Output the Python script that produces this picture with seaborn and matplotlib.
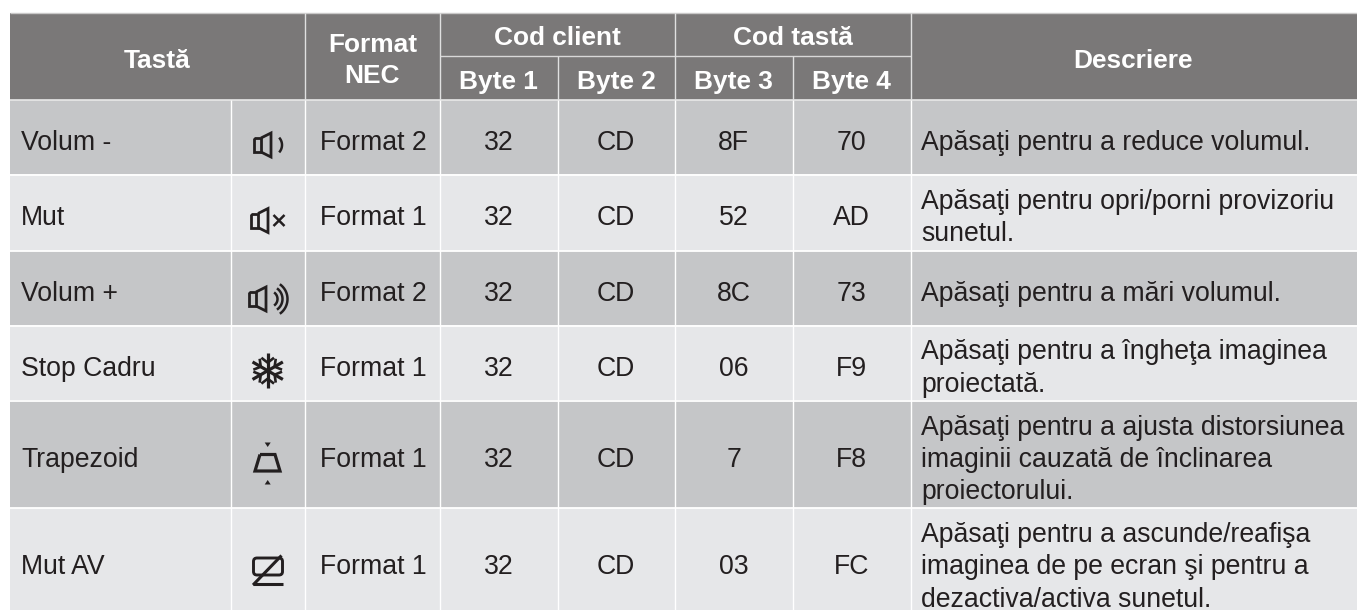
#################################
# Remote control codes table
#################################

import numpy as np
import matplotlib
matplotlib.use("Agg")
import matplotlib.pyplot as plt
from matplotlib.colors import ListedColormap
from matplotlib.patches import FancyBboxPatch
import seaborn as sns

sns.set_theme(style="white")
plt.rcParams['font.family'] = ['Liberation Sans', 'DejaVu Sans']

#################################
# TABLE CONTENT
#################################

keys = ["Volum -", "Mut", "Volum +", "Stop Cadru", "Trapezoid", "Mut AV"]
icons = ["vol_down", "mute", "vol_up", "freeze", "keystone", "av_mute"]
formats = ["Format 2", "Format 1", "Format 2", "Format 1", "Format 1", "Format 1"]
byte1 = ["32", "32", "32", "32", "32", "32"]
byte2 = ["CD", "CD", "CD", "CD", "CD", "CD"]
byte3 = ["8F", "52", "8C", "06", "7", "03"]
byte4 = ["70", "AD", "73", "F9", "F8", "FC"]
descriptions = [
    ["Apăsaţi pentru a reduce volumul."],
    ["Apăsaţi pentru opri/porni provizoriu", "sunetul."],
    ["Apăsaţi pentru a mări volumul."],
    ["Apăsaţi pentru a îngheţa imaginea", "proiectată."],
    ["Apăsaţi pentru a ajusta distorsiunea", "imaginii cauzată de înclinarea", "proiectorului."],
    ["Apăsaţi pentru a ascunde/reafişa", "imaginea de pe ecran şi pentru a", "dezactiva/activa sunetul."],
]

# cell layout, in pixels
col_edges = [10, 230.5, 304.5, 439.5, 557.5, 675, 792.5, 910.5, 1357]
row_edges = [100, 174.5, 251, 325.5, 400.5, 508, 616]
top, mid, W, H = 13, 55.5, 1357, 610

HEAD, DARK, LIGHT, PAGE = "#7a7878", "#c5c6c8", "#e6e7e9", "#ffffff"
INK = "#231f20"
FS = 19.15
FS_HEAD = 18.9

#################################
# BACKGROUND (heatmap on a pixel grid)
#################################

# one value per pixel: 0 page, 1 header, 2 dark row, 3 light row
shade = np.zeros((H, W), dtype=int)
shade[top:100, 10:] = 1
for i in range(6):
    shade[int(row_edges[i]):min(int(row_edges[i + 1]), H), 10:] = 2 + i % 2

fig = plt.figure(figsize=(W / 100, H / 100), dpi=100)
ax = fig.add_axes([0, 0, 1, 1])
sns.heatmap(shade, cmap=ListedColormap([PAGE, HEAD, DARK, LIGHT]), vmin=-0.5, vmax=3.5,
            cbar=False, xticklabels=False, yticklabels=False, ax=ax)
ax.set_xlim(0, W)
ax.set_ylim(H, 0)

#################################
# GRID LINES
#################################

ax.hlines(top, 10, W, color="#c9c8c8", lw=1.0)
ax.hlines(100, 10, W, color="#e8e8e8", lw=1.2)
ax.hlines(mid, col_edges[3], col_edges[7], color="#d8d8d8", lw=1.0)
for y in row_edges[1:-1]:
    ax.hlines(y, 10, W, color="white", lw=1.3)
for x in [col_edges[2], col_edges[3], col_edges[5], col_edges[7]]:
    ax.vlines(x, top, 100, color="#e0e0e0", lw=1.0)
for x in [col_edges[4], col_edges[6]]:
    ax.vlines(x, mid, 100, color="#e0e0e0", lw=1.0)
for x in col_edges[1:-1]:
    ax.vlines(x, 100, H, color="white", lw=1.0)

#################################
# HEADER TEXT
#################################

head = dict(color="white", fontweight="bold", fontsize=FS_HEAD, ha="center", va="baseline")
ax.text(157.5, 68, "Tastă", **head)
ax.text(372.5, 52, "Format", **head)
ax.text(372.5, 83, "NEC", **head)
ax.text(557.5, 44.7, "Cod client", **head)
ax.text(792.5, 44.7, "Cod tastă", **head)
for k, name in enumerate(["Byte 1", "Byte 2", "Byte 3", "Byte 4"]):
    ax.text((col_edges[3 + k] + col_edges[4 + k]) / 2, 89, name, **head)
ax.text(1133, 68, "Descriere", **head)

#################################
# BODY TEXT
#################################

LINE = 32.2
for i in range(6):
    centre = (row_edges[i] + row_edges[i + 1]) / 2
    base = centre + 12.5
    ax.text(21, base, keys[i], color=INK, fontsize=FS, va="baseline")
    ax.text(373, base, formats[i], color=INK, fontsize=FS, ha="center", va="baseline")
    for k, col in enumerate([byte1, byte2, byte3, byte4]):
        ax.text((col_edges[3 + k] + col_edges[4 + k]) / 2, base, col[i], color=INK,
                fontsize=FS, ha="center", va="baseline")
    lines = descriptions[i]
    for n, txt in enumerate(lines):
        ax.text(921, base + (n - (len(lines) - 1) / 2) * LINE, txt, color=INK,
                fontsize=FS, va="baseline")

#################################
# ICONS
#################################

def stroke(xs, ys, lw=2.0, **kw):
    ax.plot(xs, ys, color=INK, lw=lw, solid_capstyle="butt", solid_joinstyle="miter", **kw)

def speaker(x, y):
    # x = left edge of the box, y = vertical centre
    stroke([x, x + 7, x + 7, x, x], [y - 7, y - 7, y + 7, y + 7, y - 7])
    stroke([x + 7, x + 17, x + 17, x + 7], [y - 7, y - 12, y + 12, y + 7])

def arc(x, y, r, half=62):
    t = np.radians(np.linspace(-half, half, 30))
    stroke(x + r * np.cos(t), y + r * np.sin(t), lw=1.8)

def draw_icon(name, y):
    if name == "vol_down":
        speaker(254, y + 7.5)
        arc(271, y + 7.5, 11, 42)
    elif name == "mute":
        speaker(251, y + 7.5)
        stroke([273.5, 284.5], [y + 2, y + 13], lw=1.8)
        stroke([273.5, 284.5], [y + 13, y + 2], lw=1.8)
    elif name == "vol_up":
        speaker(249, y + 10)
        for r in (8, 13, 18):
            arc(269.5, y + 10, r, 55)
    elif name == "freeze":
        # six arms, each with one chevron pointing back to the centre
        for a in range(0, 180, 60):
            t = np.radians(a + 90)
            dx, dy = np.cos(t), np.sin(t)
            stroke([267.7 - 17.5 * dx, 267.7 + 17.5 * dx], [y - 17.5 * dy, y + 17.5 * dy], lw=2.3)
            for s in (-1, 1):
                for side in (-1, 1):
                    t2 = t + side * np.radians(52)
                    cx, cy = 267.7 + s * 8 * dx, y + s * 8 * dy
                    stroke([cx, cx + s * 8 * np.cos(t2)], [cy, cy + s * 8 * np.sin(t2)], lw=1.9)
    elif name == "keystone":
        stroke([260, 275, 280, 255, 260], [y - 8, y - 8, y + 8.5, y + 8.5, y - 8], lw=2.3)
        ax.fill([264.7, 270.7, 267.7], [y - 20, y - 20, y - 15.5], color=INK, lw=0)
        ax.fill([264.7, 270.7, 267.7], [y + 22, y + 22, y + 17.5], color=INK, lw=0)
    elif name == "av_mute":
        ax.add_patch(FancyBboxPatch((255, y - 7), 26, 14, boxstyle="round,pad=1.5,rounding_size=3.5",
                                    fc="none", ec=INK, lw=2.1))
        stroke([253, 283], [y + 17.5, y + 17.5], lw=2.2)
        stroke([253, 281.5], [y + 18.5, y - 11], lw=2.2)

icon_y = [137.5, 213, 289, 370.7, 462.5, 566.5]
for i in range(6):
    draw_icon(icons[i], icon_y[i])

ax.set_xlim(0, W)
ax.set_ylim(H, 0)
plt.savefig("out.png", dpi=100)
